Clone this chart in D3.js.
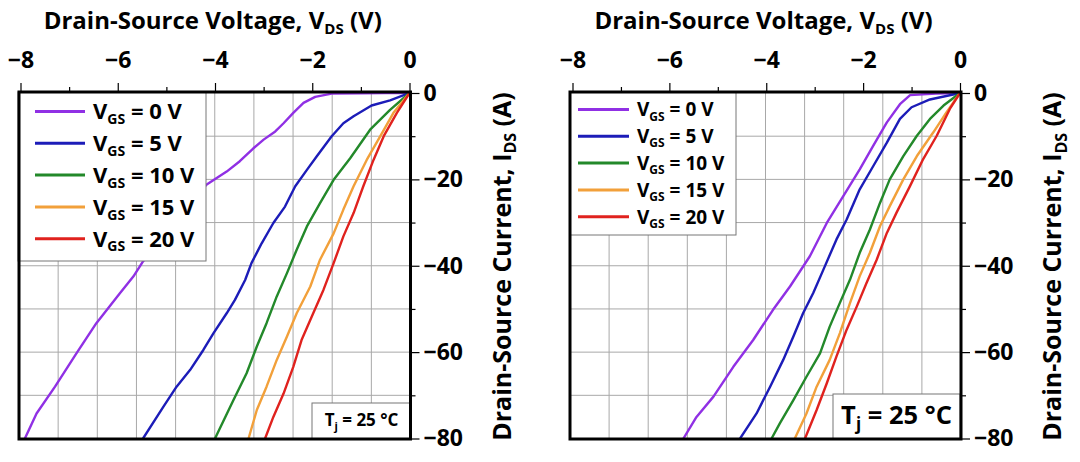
<!DOCTYPE html>
<html><head><meta charset="utf-8">
<script src="https://cdn.jsdelivr.net/npm/d3@7"></script>
<style>
body{margin:0;background:#fff}
svg{display:block}
text{font-family:"Open Sans",Lato,sans-serif;font-weight:700;fill:#000}
</style>
</head><body><svg id="c" width="1080" height="462"></svg>
<script>
// ---------- data ----------
const xMajorTicks = [-8, -6, -4, -2, 0];
const xMinorTicks = [-7, -5, -3, -1];
const yMajorTicks = [0, -20, -40, -60, -80];
const yMinorTicks = [-10, -30, -50, -70];
const vgsLabels = ["0", "5", "10", "15", "20"];
const seriesColors = ["#9030e4", "#1c1cb8", "#23892a", "#f2a03a", "#e0221e"];
const xTitleMain = "Drain-Source Voltage, V";
const xTitleSub = "DS";
const xTitleEnd = " (V)";
const yTitleMain = "Drain-Source Current, I";
const yTitleSub = "DS";
const yTitleEnd = " (A)";

// left panel (VDS, IDS)
const leftVgs0 = [[0,0],[-0.5,0],[-1.0,-0.05],[-1.60,-0.15],[-1.94,-0.9],[-2.18,-2.3],[-2.39,-4.6],[-2.59,-7.0],[-2.76,-8.9],[-3.0,-10.8],[-3.21,-12.8],[-3.49,-15.8],[-3.76,-18.2],[-4.17,-21.2],[-4.6,-26.5],[-5.0,-32.5],[-5.48,-39.0],[-5.68,-42.5],[-5.96,-46.4],[-6.44,-53.3],[-6.85,-60.3],[-7.29,-68.0],[-7.67,-74.2],[-7.91,-80]];
const leftVgs5 = [[0,0],[-0.40,-1.7],[-0.78,-2.9],[-1.15,-5.4],[-1.36,-7.0],[-1.60,-10.0],[-1.91,-14.7],[-2.11,-17.8],[-2.35,-21.6],[-2.56,-26.3],[-2.80,-30.1],[-3.04,-34.8],[-3.25,-39.4],[-3.38,-43.3],[-3.59,-47.9],[-3.76,-51.0],[-4.03,-55.6],[-4.24,-59.5],[-4.51,-64.1],[-4.79,-68.0],[-5.06,-72.6],[-5.48,-80]];
const leftVgs10 = [[0,0],[-0.40,-3.9],[-0.81,-8.5],[-1.22,-15.1],[-1.56,-20.1],[-1.84,-25.5],[-2.11,-30.9],[-2.32,-36.3],[-2.52,-41.7],[-2.73,-47.1],[-2.94,-53.3],[-3.14,-58.7],[-3.35,-64.9],[-3.62,-71.1],[-4.00,-80]];
const leftVgs15 = [[0,0],[-0.33,-4.6],[-0.60,-10.0],[-0.88,-15.5],[-1.15,-21.6],[-1.36,-27.0],[-1.56,-32.5],[-1.84,-38.6],[-2.04,-44.8],[-2.32,-51.0],[-2.52,-56.4],[-2.73,-61.8],[-2.94,-68.0],[-3.14,-73.4],[-3.31,-80]];
const leftVgs20 = [[0,0],[-0.26,-4.6],[-0.53,-10.0],[-0.74,-15.5],[-0.95,-21.6],[-1.15,-27.8],[-1.36,-33.2],[-1.56,-39.4],[-1.77,-45.6],[-1.98,-51.0],[-2.22,-57.2],[-2.39,-63.4],[-2.59,-69.6],[-2.80,-75.0],[-2.97,-80]];

// right panel (VDS, IDS)
const rightVgs0 = [[0,0],[-0.5,-0.1],[-1.03,-0.5],[-1.24,-2.6],[-1.51,-6.8],[-1.79,-12.2],[-2.07,-17.7],[-2.41,-23.9],[-2.75,-30.1],[-3.10,-37.8],[-3.51,-44.8],[-3.86,-50.2],[-4.27,-57.2],[-4.68,-63.4],[-5.09,-70.3],[-5.44,-75.0],[-5.71,-80]];
const rightVgs5 = [[0,0],[-0.62,-1.5],[-1.0,-3.3],[-1.24,-6.0],[-1.51,-11.5],[-1.79,-16.9],[-2.07,-22.3],[-2.34,-29.3],[-2.55,-33.9],[-2.82,-40.9],[-3.03,-46.3],[-3.24,-51.0],[-3.44,-56.4],[-3.65,-61.8],[-3.92,-68.0],[-4.20,-74.2],[-4.54,-80]];
const rightVgs10 = [[0,0],[-0.34,-2.9],[-0.62,-6.0],[-0.89,-9.9],[-1.17,-14.6],[-1.45,-20.0],[-1.65,-25.4],[-1.86,-31.6],[-2.07,-37.0],[-2.27,-43.2],[-2.48,-48.6],[-2.69,-54.1],[-2.89,-60.3],[-3.17,-65.7],[-3.44,-71.1],[-3.72,-76.5],[-3.89,-80]];
const rightVgs15 = [[0,0],[-0.28,-4.5],[-0.55,-9.1],[-0.89,-14.6],[-1.17,-20.0],[-1.45,-26.2],[-1.65,-30.8],[-1.86,-37.0],[-2.07,-42.4],[-2.27,-48.6],[-2.48,-55.6],[-2.69,-61.8],[-2.96,-68.0],[-3.17,-74.2],[-3.41,-80]];
const rightVgs20 = [[0,0],[-0.21,-3.7],[-0.48,-9.9],[-0.76,-15.3],[-1.03,-21.5],[-1.31,-27.7],[-1.51,-32.4],[-1.72,-38.6],[-1.93,-44.0],[-2.13,-49.4],[-2.34,-54.8],[-2.55,-61.0],[-2.75,-67.2],[-2.96,-73.4],[-3.20,-80]];

const tjText = ["T", "j", " = 25 °C"];

// ---------- layout ----------
const panels = [
  { id: "L", series: [leftVgs0, leftVgs5, leftVgs10, leftVgs15, leftVgs20],
    frameX: [19, 410.5], xRange: [20.5, 409.5],
    legend: { x: 18, y: 92, w: 188, h: 169, lineX: [35, 85], textX: 93, row0: 111.5, rowStep: 31.8, fs: 22, subFs: 14 },
    tj: { x: 312, y: 403, w: 99, h: 36, fs: 17, subFs: 11 } },
  { id: "R", series: [rightVgs0, rightVgs5, rightVgs10, rightVgs15, rightVgs20],
    frameX: [570, 961], xRange: [572.5, 960],
    legend: { x: 570, y: 92, w: 166, h: 143, lineX: [578, 629], textX: 637, row0: 109.5, rowStep: 26.8, fs: 19, subFs: 12 },
    tj: { x: 833, y: 394, w: 127, h: 45, fs: 25.5, subFs: 17 } }
];
const frameY = [92, 439];
const yRange = [93, 438.5];
const titleFs = 24, titleSubFs = 15, yTitleFs = 25, yTitleSubFs = 16, tickFs = 23;

const svg = d3.select("#c");

function richText(sel, parts, fs, subFs) {
  parts.forEach(([t, sub], i) => {
    const prevSub = i > 0 && parts[i - 1][1];
    const ts = sel.append("tspan").text(t).style("font-size", (sub ? subFs : fs) + "px");
    if (sub) ts.attr("dy", fs * 0.22);
    else if (prevSub) ts.attr("dy", -fs * 0.22);
  });
}

panels.forEach(p => {
  const x = d3.scaleLinear().domain([-8, 0]).range(p.xRange);
  const y = d3.scaleLinear().domain([0, -80]).range(yRange);
  const fx0 = p.frameX[0], fx1 = p.frameX[1];
  const g = svg.append("g");

  // grid: 10 columns, rows every 10 A
  const gridCols = d3.scaleLinear().domain([0, 10]).range([fx0, fx1]);
  g.append("g").selectAll("line").data(d3.range(1, 10)).join("line")
    .attr("x1", d => gridCols(d)).attr("x2", d => gridCols(d))
    .attr("y1", frameY[0]).attr("y2", frameY[1])
    .attr("stroke", "#a8a8a8").attr("stroke-width", 1);
  g.append("g").selectAll("line").data(d3.range(-10, -80, -10)).join("line")
    .attr("x1", fx0).attr("x2", fx1)
    .attr("y1", d => y(d)).attr("y2", d => y(d))
    .attr("stroke", "#a8a8a8").attr("stroke-width", 1);

  // curves
  const clipId = "clip" + p.id;
  svg.append("clipPath").attr("id", clipId).append("rect")
    .attr("x", fx0).attr("y", frameY[0]).attr("width", fx1 - fx0).attr("height", frameY[1] - frameY[0]);
  const line = d3.line().x(d => x(d[0])).y(d => y(d[1]));
  g.append("g").attr("clip-path", `url(#${clipId})`).selectAll("path").data(p.series).join("path")
    .attr("d", line).attr("fill", "none")
    .attr("stroke", (d, i) => seriesColors[i]).attr("stroke-width", 2.4)
    .attr("stroke-linejoin", "round");

  // legend
  const L = p.legend;
  const lg = g.append("g");
  lg.append("rect").attr("x", L.x).attr("y", L.y).attr("width", L.w).attr("height", L.h)
    .attr("fill", "#fff").attr("stroke", "#777").attr("stroke-width", 1);
  vgsLabels.forEach((v, i) => {
    const cy = L.row0 + i * L.rowStep;
    lg.append("line").attr("x1", L.lineX[0]).attr("x2", L.lineX[1]).attr("y1", cy).attr("y2", cy)
      .attr("stroke", seriesColors[i]).attr("stroke-width", 3);
    const t = lg.append("text").attr("x", L.textX).attr("y", cy + L.fs * 0.36);
    richText(t, [["V", false], ["GS", true], [" = " + v + " V", false]], L.fs, L.subFs);
  });

  // Tj box
  const T = p.tj;
  g.append("rect").attr("x", T.x).attr("y", T.y).attr("width", T.w).attr("height", T.h)
    .attr("fill", "#fff").attr("stroke", "#777").attr("stroke-width", 1);
  const tt = g.append("text").attr("x", T.x + T.w / 2).attr("y", T.y + T.h / 2 + T.fs * 0.3)
    .attr("text-anchor", "middle");
  richText(tt, [[tjText[0], false], [tjText[1], true], [tjText[2], false]], T.fs, T.subFs);

  // frame
  g.append("rect").attr("x", fx0).attr("y", frameY[0]).attr("width", fx1 - fx0).attr("height", frameY[1] - frameY[0])
    .attr("fill", "none").attr("stroke", "#000").attr("stroke-width", 3);

  // top x axis
  const xMaj = g.append("g").attr("transform", `translate(0,${frameY[0]})`)
    .call(d3.axisTop(x).tickValues(xMajorTicks).tickSize(9).tickPadding(15).tickFormat(d3.format("d")));
  const xMin = g.append("g").attr("transform", `translate(0,${frameY[0]})`)
    .call(d3.axisTop(x).tickValues(xMinorTicks).tickSize(5).tickFormat(""));
  // right y axis
  const yMaj = g.append("g").attr("transform", `translate(${fx1},0)`)
    .call(d3.axisRight(y).tickValues(yMajorTicks).tickSize(9).tickPadding(4).tickFormat(d3.format("d")));
  const yMin = g.append("g").attr("transform", `translate(${fx1},0)`)
    .call(d3.axisRight(y).tickValues(yMinorTicks).tickSize(5).tickFormat(""));
  [xMaj, xMin, yMaj, yMin].forEach(a => {
    a.select(".domain").remove();
    a.selectAll(".tick line").attr("stroke", "#000").attr("stroke-width", 1.2);
    a.selectAll(".tick text").attr("fill", "#000").style("font-family", "'Open Sans',Lato,sans-serif")
      .style("font-weight", 700).style("font-size", tickFs + "px");
  });

  // titles
  const cx = (fx0 + fx1) / 2 - 2;
  const xt = g.append("text").attr("x", cx).attr("y", 29).attr("text-anchor", "middle");
  richText(xt, [[xTitleMain, false], [xTitleSub, true], [xTitleEnd, false]], titleFs, titleSubFs);
  const yt = g.append("text").attr("text-anchor", "middle")
    .attr("transform", `translate(${fx1 + 100},${(frameY[0] + frameY[1]) / 2 + 1}) rotate(-90)`);
  richText(yt, [[yTitleMain, false], [yTitleSub, true], [yTitleEnd, false]], yTitleFs, yTitleSubFs);
});
</script>
</body></html>
